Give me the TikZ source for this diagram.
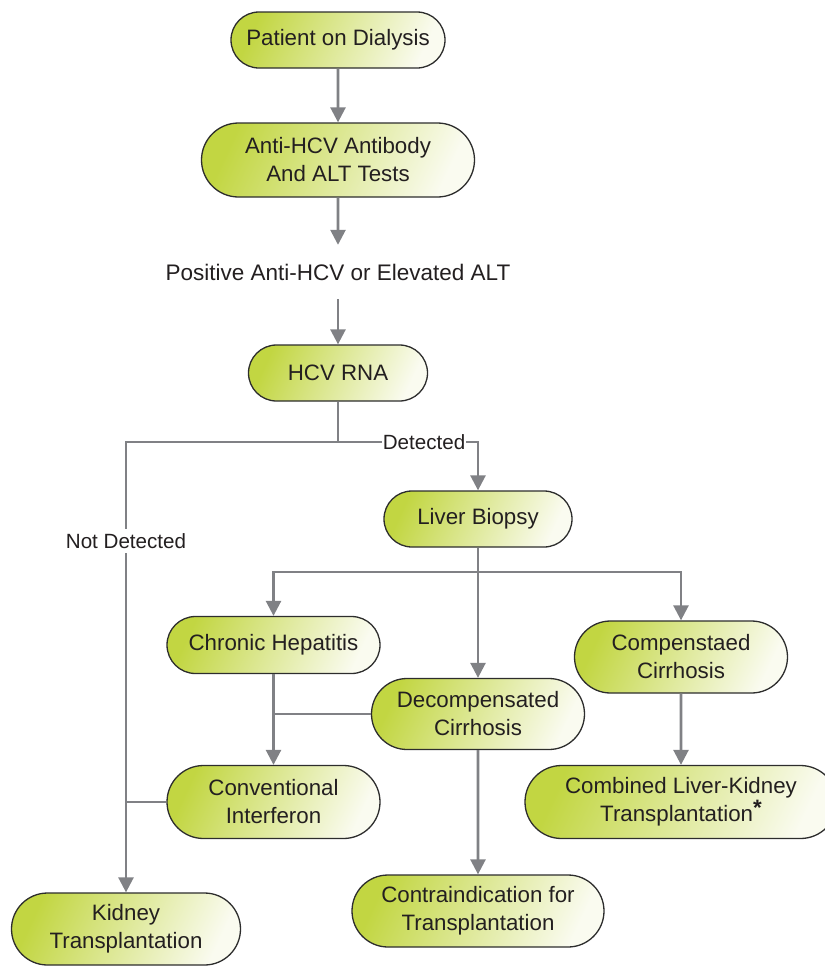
\documentclass[tikz,border=0pt]{standalone}
\usepackage{fontspec}
\setmainfont{Liberation Sans}
\usetikzlibrary{shapes.misc,arrows.meta}
\definecolor{gA}{RGB}{194,214,66}
\definecolor{gB}{RGB}{250,251,240}
\definecolor{lineg}{RGB}{128,129,133}
\definecolor{txt}{RGB}{35,31,32}
\definecolor{bord}{RGB}{45,45,45}
\tikzset{
  box/.style={rounded rectangle, draw=bord, line width=1.3pt,
    left color=gA, right color=gB, shading angle=65,
    align=center, text=txt, inner sep=0pt,
    font=\fontsize{22.3}{28}\selectfont},
  lbl/.style={text=txt, inner sep=1pt, font=\fontsize{20.6}{24}\selectfont},
  conn/.style={draw=lineg, line width=2.6pt},
  arr/.style={conn, -{Triangle[width=15pt,length=15pt]}},
}
\begin{document}
\begin{tikzpicture}[x=1pt,y=-1pt]
\clip (0,0) rectangle (825,967);
\useasboundingbox (0,0) rectangle (825,967);
\node[box, minimum width=214, minimum height=56] (pat) at (338,40) {Patient on Dialysis};
\node[box, minimum width=273, minimum height=74] (anti) at (338,160) {Anti-HCV Antibody\\And ALT Tests};
\node[lbl, minimum height=54, font=\fontsize{22.5}{26}\selectfont] (pos) at (338,272) {Positive Anti-HCV or Elevated ALT};
\node[box, minimum width=179, minimum height=56] (rna) at (338,373) {HCV RNA};
\node[lbl] (det) at (424,442) {Detected};
\node[box, minimum width=188, minimum height=56] (liv) at (478,519) {Liver Biopsy};
\node[box, minimum width=213, minimum height=57] (chr) at (273.5,645) {Chronic Hepatitis};
\node[box, minimum width=213, minimum height=72] (comp) at (681,657) {Compenstaed\\Cirrhosis};
\node[box, minimum width=213, minimum height=71] (dec) at (478,714) {Decompensated\\Cirrhosis};
\node[box, minimum width=213, minimum height=73] (conv) at (273.5,802) {Conventional\\Interferon};
\node[box, minimum width=312, minimum height=73] (comb) at (681,802) {Combined Liver-Kidney\\Transplantation\raisebox{6pt}{\bfseries *}};
\node[box, minimum width=252, minimum height=72] (contra) at (478,911) {Contraindication for\\Transplantation};
\node[box, minimum width=229, minimum height=72] (kid) at (126,929) {Kidney\\Transplantation};

\coordinate (j1) at (338,442);
\coordinate (j2) at (478,572);

\draw[arr] (pat) -- (anti);
\draw[arr] (anti) -- (pos);
\draw[arr] (pos) -- (rna);
\draw[conn] (rna) -- (j1) -- (det.west);
\draw[arr] (det.east) -| (liv.north);
\draw[arr] (j1) -| (kid.north);
\node[lbl, fill=white, inner ysep=4pt] (nd) at (126,541) {Not Detected};
\draw[conn] (liv) -- (j2);
\draw[arr] (j2) -| (chr.north);
\draw[arr] (j2) -| (comp.north);
\draw[arr] (j2) -- (dec.north);
\draw[arr] (chr) -- (conv);
\draw[conn] (dec.west) -- (chr.south |- dec.west);
\draw[conn] (conv.west) -- (kid.north |- conv.west);
\draw[arr] (comp) -- (comp.south |- comb.north);
\draw[arr] (dec) -- (contra);
\end{tikzpicture}
\end{document}
